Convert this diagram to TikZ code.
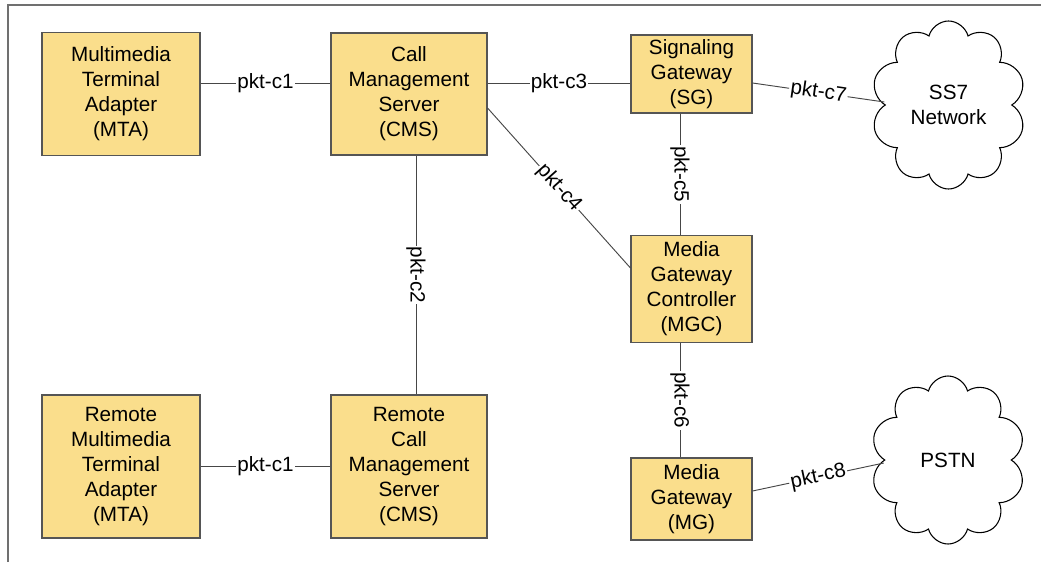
\documentclass[tikz,border=0pt]{standalone}
\usepackage{fontspec}
\setmainfont{Liberation Sans}
\usetikzlibrary{shapes.symbols}

\definecolor{boxfill}{RGB}{250,222,140}
\definecolor{boxline}{RGB}{85,85,85}
\definecolor{linkgray}{RGB}{70,70,70}
\definecolor{framegray}{RGB}{112,112,112}

\begin{document}
\begin{tikzpicture}[x=0.75pt,y=-0.75pt,font=\fontsize{15.5}{18.8}\selectfont,
  box/.style={draw=boxline,fill=boxfill,align=center,inner sep=0pt,line width=0.8pt},
  net/.style={cloud,cloud puffs=10,cloud puff arc=150,cloud ignores aspect,draw,align=center,
    minimum width=116pt,minimum height=126pt,inner sep=0pt,line width=0.8pt},
  lbl/.style={fill=white,inner sep=1pt},
  every edge/.style={draw=linkgray,line width=0.7pt}]

\useasboundingbox (0,0) rectangle (1041,564);

% frame
  \draw[framegray,line width=1.4pt] (8,562) -- (8,5) -- (1041,5);

% define the boxes
  \node[box,minimum width=118.5pt,minimum height=92.25pt] (mta)  at (121,94)
{Multimedia\\Terminal\\Adapter\\(MTA)};
  \node[box,minimum width=117pt,minimum height=91.5pt]    (cms)  at (409,94)
{Call\\Management\\Server\\(CMS)};
  \node[box,minimum width=90.75pt,minimum height=58.5pt]  (sg)   at (691.5,74)
{Signaling\\Gateway\\(SG)};
  \node[box,minimum width=90.75pt,minimum height=80.25pt] (mgc)  at (691.5,289)
{Media\\Gateway\\Controller\\(MGC)};
  \node[box,minimum width=90.75pt,minimum height=61.5pt]  (mg)   at (691.5,499)
{Media\\Gateway\\(MG)};
  \node[box,minimum width=118.5pt,minimum height=107.25pt] (rmta) at (121,466.5)
{Remote\\Multimedia\\Terminal\\Adapter\\(MTA)};
  \node[box,minimum width=117pt,minimum height=107.25pt]   (rcms) at (409,466.5)
{Remote\\Call\\Management\\Server\\(CMS)};

% define the networks
  \node[net] (ss7)  at (948.5,105) {SS7\\Network};
  \node[net] (pstn) at (948,460)   {PSTN};

% define the links
  \path ([yshift=8.25pt]mta.east)  edge node[lbl] {pkt-c1} ([yshift=8.25pt]cms.west)
        ([yshift=8.25pt]cms.east)  edge node[lbl] {pkt-c3} ([yshift=-6.75pt]sg.west)
        ([xshift=5.25pt]cms.south) edge node[lbl,rotate=-90] {pkt-c2} ([xshift=5.25pt]rcms.north)
        ([yshift=-10.5pt]cms.east) edge node[lbl,sloped] {pkt-c4} ([yshift=15.75pt]mgc.west)
        ([xshift=-8.6pt]sg.south)  edge node[lbl,rotate=-90] {pkt-c5} ([xshift=-8.6pt]mgc.north)
        ([xshift=-8.6pt]mgc.south) edge node[lbl,rotate=-90] {pkt-c6} ([xshift=-8.6pt]mg.north)
        ([yshift=-6.75pt]sg.east)  edge node[lbl,sloped] {pkt-c7} ([yshift=2.25pt]ss7.west)
        ([yshift=6pt]mg.east)      edge node[lbl,sloped] {pkt-c8} ([yshift=-2.25pt]pstn.west)
        (rmta)                     edge node[lbl] {pkt-c1} (rcms);

\end{tikzpicture}
\end{document}
